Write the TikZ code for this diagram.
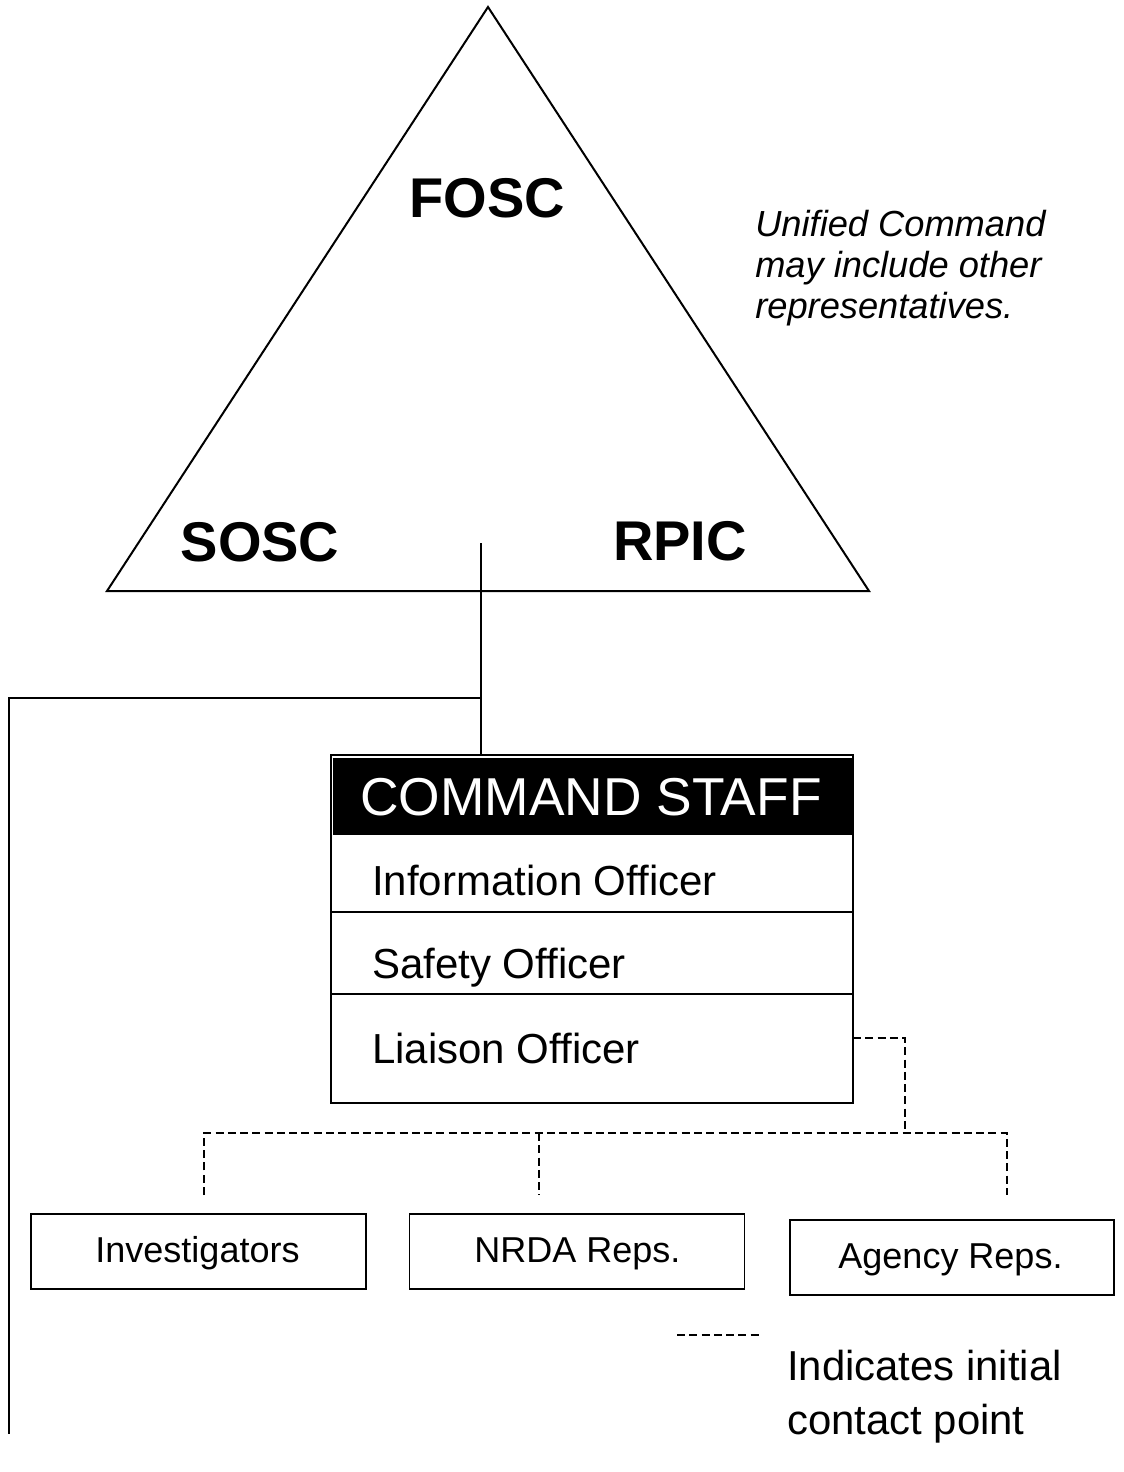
\documentclass[tikz,border=0pt]{standalone}
\usepackage{fontspec}
\setmainfont{Liberation Sans}
\begin{document}
\begin{tikzpicture}[x=0.75pt,y=-0.75pt,
  edge/.style={line width=1.1pt},
  thickedge/.style={line width=1.5pt},
  dashedge/.style={line width=1.4pt, dash pattern=on 6pt off 3.2pt},
  bigbold/.style={font=\fontsize{42}{50}\selectfont\bfseries, inner sep=0pt, anchor=base},
  rowtext/.style={font=\fontsize{31.5}{38}\selectfont, inner sep=0pt, anchor=base west},
  boxlbl/.style={font=\fontsize{27}{32}\selectfont, inner sep=0pt, anchor=base},
  smallbox/.style={draw, line width=1.4pt, minimum width=251.25pt, minimum height=56.25pt, inner sep=0pt},
]
\useasboundingbox (0,0) rectangle (1124,1472);

% Unified command triangle
\coordinate (apex) at (488,7);
\coordinate (bl) at (107,591);
\coordinate (br) at (869,591);
\draw[line width=1.5pt, line join=miter] (apex) -- (br) -- (bl) -- cycle;
\node[bigbold] (fosc) at (487.5,217) {FOSC};
\node[bigbold] (sosc) at (260,561) {SOSC};
\node[bigbold] (rpic) at (680,560) {RPIC};

\node[font=\itshape\fontsize{27.2}{30.75}\selectfont, inner sep=0pt, anchor=north west, align=left] (note) at (755,210)
  {Unified Command\\may include other\\representatives.};

% Command staff box
\node[draw, line width=1.4pt, minimum width=391.5pt, minimum height=261pt, inner sep=0pt] (cs) at (592,929) {};
\fill[black] (332.5,757.5) rectangle (851.5,835);
\node[font=\fontsize{40}{48}\selectfont, text=white, inner sep=0pt, anchor=base] (cst) at (591,815) {COMMAND STAFF};
\draw[line width=1.3pt] (331,912) -- (853,912);
\draw[line width=1.3pt] (331,994) -- (853,994);
\node[rowtext] (info) at (372,895) {Information Officer};
\node[rowtext] (safe) at (372,978) {Safety Officer};
\node[rowtext] (liai) at (372,1063) {Liaison Officer};

% Solid connectors
\coordinate (tribot) at (481,543);
\coordinate (junc) at (481,698);
\coordinate (lcorner) at (9,698);
\coordinate (lend) at (9,1434);
\draw[edge] (tribot) -- (tribot |- cs.north);
\draw[thickedge] (junc) -- (lcorner) -- (lend);

% Bottom boxes
\node[smallbox] (inv) at (198.5,1251.5) {};
\node[boxlbl] (invt) at (197.5,1262) {Investigators};
\node[smallbox] (nrda) at (577,1251.5) {};
\node[boxlbl] (nrdat) at (577.5,1262) {NRDA Reps.};
\node[smallbox, minimum width=243pt] (agy) at (952,1257.5) {};
\node[boxlbl] (agyt) at (950.5,1268) {Agency Reps.};

% Dashed connectors
\coordinate (liaR) at (853,1038);
\coordinate (liaC) at (905,1038);
\coordinate (busC) at (905,1133);
\coordinate (busL) at (204,1133);
\coordinate (busM) at (539,1133);
\coordinate (busR) at (1007,1133);
\coordinate (dropL) at (204,1195);
\coordinate (dropM) at (539,1195);
\coordinate (dropR) at (1007,1195);
\draw[dashedge] (liaR) -- (liaC) -- (busC);
\draw[dashedge] (dropL) -- (busL) -- (busR) -- (dropR);
\draw[dashedge] (busM) -- (dropM);

% Legend
\coordinate (legA) at (677,1335);
\coordinate (legB) at (762,1335);
\draw[dashedge] (legA) -- (legB);
\node[font=\fontsize{31.4}{40.5}\selectfont, inner sep=0pt, anchor=north west, align=left] (legt) at (787,1350)
  {Indicates initial\\contact point};
\end{tikzpicture}
\end{document}
